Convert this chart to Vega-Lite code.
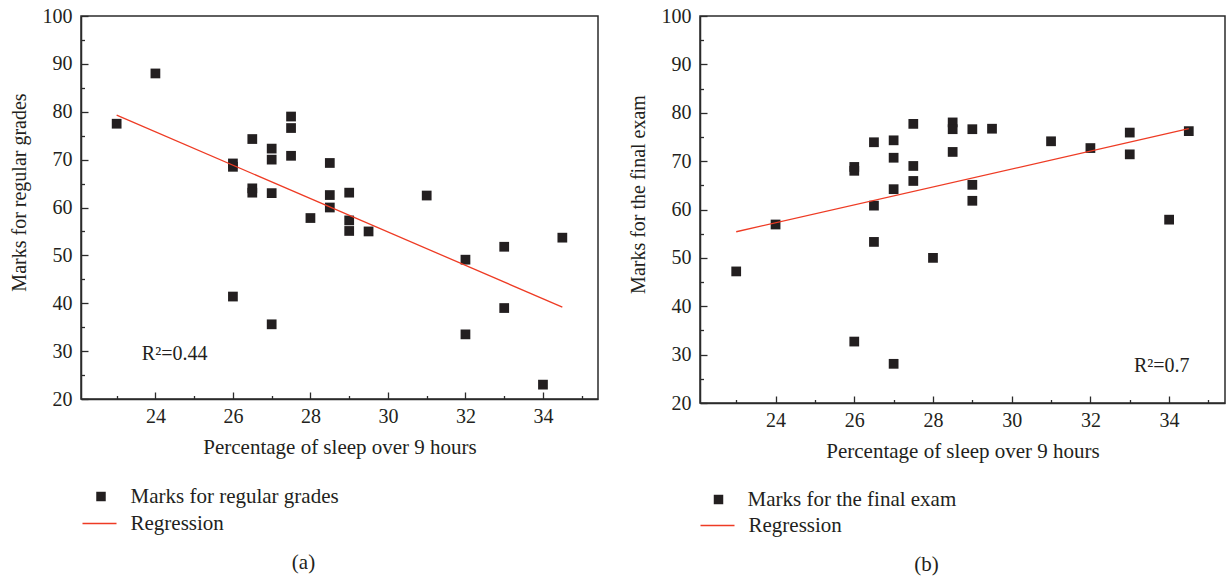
{
  "$schema": "https://vega.github.io/schema/vega-lite/v6.json",
  "background": "white",
  "padding": {"left": 8, "top": 5, "right": 1, "bottom": 0},
  "config": {
    "font": "Liberation Serif",
    "view": {"stroke": "#2b2b2b", "strokeWidth": 1.5},
    "axis": {
      "labelFont": "Liberation Serif", "titleFont": "Liberation Serif",
      "labelFontSize": 20, "titleFontSize": 21, "titleFontWeight": "normal",
      "labelColor": "#231f20", "titleColor": "#231f20",
      "domainColor": "#2b2b2b", "domainWidth": 1.5,
      "tickColor": "#2b2b2b", "tickWidth": 1.3,
      "grid": false, "labelOverlap": false, "labelFlush": false
    },
    "legend": {
      "labelFont": "Liberation Serif", "labelFontSize": 21, "labelColor": "#231f20", "labelLimit": 0,
      "padding": 0, "symbolOpacity": 1
    },
    "title": {"font": "Liberation Serif", "fontSize": 21, "fontWeight": "normal", "color": "#231f20"}
  },
  "datasets": {
    "a": [
      {"kind": "pt", "series": "Marks for regular grades", "x": 23, "y": 77.5},
      {"kind": "pt", "series": "Marks for regular grades", "x": 24, "y": 88},
      {"kind": "pt", "series": "Marks for regular grades", "x": 26, "y": 69.2},
      {"kind": "pt", "series": "Marks for regular grades", "x": 26, "y": 68.5},
      {"kind": "pt", "series": "Marks for regular grades", "x": 26, "y": 41.4},
      {"kind": "pt", "series": "Marks for regular grades", "x": 26.5, "y": 74.3},
      {"kind": "pt", "series": "Marks for regular grades", "x": 26.5, "y": 64},
      {"kind": "pt", "series": "Marks for regular grades", "x": 26.5, "y": 63.1},
      {"kind": "pt", "series": "Marks for regular grades", "x": 27, "y": 72.3},
      {"kind": "pt", "series": "Marks for regular grades", "x": 27, "y": 70},
      {"kind": "pt", "series": "Marks for regular grades", "x": 27, "y": 63},
      {"kind": "pt", "series": "Marks for regular grades", "x": 27, "y": 35.6},
      {"kind": "pt", "series": "Marks for regular grades", "x": 27.5, "y": 79},
      {"kind": "pt", "series": "Marks for regular grades", "x": 27.5, "y": 76.6},
      {"kind": "pt", "series": "Marks for regular grades", "x": 27.5, "y": 70.8},
      {"kind": "pt", "series": "Marks for regular grades", "x": 28, "y": 57.8},
      {"kind": "pt", "series": "Marks for regular grades", "x": 28.5, "y": 69.3},
      {"kind": "pt", "series": "Marks for regular grades", "x": 28.5, "y": 62.6},
      {"kind": "pt", "series": "Marks for regular grades", "x": 28.5, "y": 60},
      {"kind": "pt", "series": "Marks for regular grades", "x": 29, "y": 63.1},
      {"kind": "pt", "series": "Marks for regular grades", "x": 29, "y": 57.3},
      {"kind": "pt", "series": "Marks for regular grades", "x": 29, "y": 55.1},
      {"kind": "pt", "series": "Marks for regular grades", "x": 29.5, "y": 55},
      {"kind": "pt", "series": "Marks for regular grades", "x": 31, "y": 62.5},
      {"kind": "pt", "series": "Marks for regular grades", "x": 32, "y": 49.1},
      {"kind": "pt", "series": "Marks for regular grades", "x": 32, "y": 33.5},
      {"kind": "pt", "series": "Marks for regular grades", "x": 33, "y": 51.8},
      {"kind": "pt", "series": "Marks for regular grades", "x": 33, "y": 39},
      {"kind": "pt", "series": "Marks for regular grades", "x": 34, "y": 23},
      {"kind": "pt", "series": "Marks for regular grades", "x": 34.5, "y": 53.7},
      {"kind": "line", "series": "Regression", "x": 23, "y": 79.3},
      {"kind": "line", "series": "Regression", "x": 34.5, "y": 39.2},
      {"kind": "note", "series": "note", "x": 23.65, "y": 29.4, "label": "R²=0.44"}
    ],
    "b": [
      {"kind": "pt", "series": "Marks for the final exam", "x": 23, "y": 47.2},
      {"kind": "pt", "series": "Marks for the final exam", "x": 24, "y": 56.9},
      {"kind": "pt", "series": "Marks for the final exam", "x": 26, "y": 68.8},
      {"kind": "pt", "series": "Marks for the final exam", "x": 26, "y": 68},
      {"kind": "pt", "series": "Marks for the final exam", "x": 26, "y": 32.7},
      {"kind": "pt", "series": "Marks for the final exam", "x": 26.5, "y": 73.9},
      {"kind": "pt", "series": "Marks for the final exam", "x": 26.5, "y": 60.8},
      {"kind": "pt", "series": "Marks for the final exam", "x": 26.5, "y": 53.3},
      {"kind": "pt", "series": "Marks for the final exam", "x": 27, "y": 74.3},
      {"kind": "pt", "series": "Marks for the final exam", "x": 27, "y": 70.7},
      {"kind": "pt", "series": "Marks for the final exam", "x": 27, "y": 64.2},
      {"kind": "pt", "series": "Marks for the final exam", "x": 27, "y": 28.1},
      {"kind": "pt", "series": "Marks for the final exam", "x": 27.5, "y": 77.7},
      {"kind": "pt", "series": "Marks for the final exam", "x": 27.5, "y": 69},
      {"kind": "pt", "series": "Marks for the final exam", "x": 27.5, "y": 65.9},
      {"kind": "pt", "series": "Marks for the final exam", "x": 28, "y": 50},
      {"kind": "pt", "series": "Marks for the final exam", "x": 28.5, "y": 78},
      {"kind": "pt", "series": "Marks for the final exam", "x": 28.5, "y": 76.6},
      {"kind": "pt", "series": "Marks for the final exam", "x": 28.5, "y": 71.9},
      {"kind": "pt", "series": "Marks for the final exam", "x": 29, "y": 76.6},
      {"kind": "pt", "series": "Marks for the final exam", "x": 29, "y": 65.1},
      {"kind": "pt", "series": "Marks for the final exam", "x": 29, "y": 61.8},
      {"kind": "pt", "series": "Marks for the final exam", "x": 29.5, "y": 76.7},
      {"kind": "pt", "series": "Marks for the final exam", "x": 31, "y": 74.1},
      {"kind": "pt", "series": "Marks for the final exam", "x": 32, "y": 72.7},
      {"kind": "pt", "series": "Marks for the final exam", "x": 33, "y": 75.9},
      {"kind": "pt", "series": "Marks for the final exam", "x": 33, "y": 71.4},
      {"kind": "pt", "series": "Marks for the final exam", "x": 34, "y": 57.9},
      {"kind": "pt", "series": "Marks for the final exam", "x": 34.5, "y": 76.2},
      {"kind": "line", "series": "Regression", "x": 23, "y": 55.4},
      {"kind": "line", "series": "Regression", "x": 34.5, "y": 76.7},
      {"kind": "note", "series": "note", "x": 34.52, "y": 27.6, "label": "R²=0.7"}
    ]
  },
  "bounds": "flush",
  "spacing": 102,
  "resolve": {"scale": {"color": "independent", "x": "independent", "y": "independent"}, "legend": {"color": "independent"}},
  "hconcat": [
    {
      "width": 517, "height": 383,
      "data": {"name": "a"},
      "title": {"text": "(a)", "orient": "bottom", "anchor": "middle", "frame": "bounds", "offset": 18},
      "resolve": {"scale": {"color": "independent"}, "legend": {"color": "independent"}},
      "encoding": {
        "x": {"field": "x", "type": "quantitative",
          "scale": {"domain": [22.08, 35.42], "nice": false, "zero": false},
          "axis": {"title": "Percentage of sleep over 9 hours",
            "values": [23, 24, 25, 26, 27, 28, 29, 30, 31, 32, 33, 34, 35],
            "labelExpr": "datum.value % 2 == 0 ? datum.label : ''",
            "tickSize": {"condition": {"test": "datum.value % 2 != 0", "value": -3.5}, "value": -7},
            "labelPadding": 14, "titlePadding": 7}},
        "y": {"field": "y", "type": "quantitative",
          "scale": {"domain": [20, 100], "nice": false, "zero": false},
          "axis": {"title": "Marks for regular grades", "titleFontSize": 20,
            "values": [20, 25, 30, 35, 40, 45, 50, 55, 60, 65, 70, 75, 80, 85, 90, 95, 100],
            "labelExpr": "datum.value % 10 == 0 ? datum.label : ''",
            "tickSize": {"condition": {"test": "datum.value % 10 != 0", "value": -3.5}, "value": -7},
            "labelPadding": 16, "titlePadding": 13, "titleY": 176}}
      },
      "layer": [
        {
          "transform": [{"filter": "datum.kind == 'pt'"}],
          "mark": {"type": "point", "shape": "square", "filled": true, "size": 95, "opacity": 1},
          "encoding": {
            "color": {"field": "series", "type": "nominal", "title": null,
              "scale": {"domain": ["Marks for regular grades"], "range": ["#231f20"]},
              "legend": {"orient": "none", "legendX": 9.5, "legendY": 470, "symbolType": "square", "symbolSize": 90, "labelOffset": 19}}
          }
        },
        {
          "transform": [{"filter": "datum.kind == 'line'"}],
          "mark": {"type": "line", "strokeWidth": 1.3},
          "encoding": {
            "color": {"field": "series", "type": "nominal", "title": null,
              "scale": {"domain": ["Regression"], "range": ["#ee3b24"]},
              "legend": {"orient": "none", "legendX": 0.5, "legendY": 489.5, "symbolType": "stroke", "symbolSize": 1156, "symbolStrokeWidth": 1.3, "labelOffset": 13}}
          }
        },
        {
          "transform": [{"filter": "datum.kind == 'note'"}],
          "mark": {"type": "text", "align": "left", "baseline": "middle", "fontSize": 20, "font": "Liberation Serif"},
          "encoding": {"text": {"field": "label"}, "color": {"value": "#231f20"}}
        }
      ]
    },
    {
      "width": 525, "height": 387,
      "data": {"name": "b"},
      "title": {"text": "(b)", "orient": "bottom", "anchor": "middle", "frame": "bounds", "offset": 18},
      "resolve": {"scale": {"color": "independent"}, "legend": {"color": "independent"}},
      "encoding": {
        "x": {"field": "x", "type": "quantitative",
          "scale": {"domain": [22.08, 35.42], "nice": false, "zero": false},
          "axis": {"title": "Percentage of sleep over 9 hours",
            "values": [23, 24, 25, 26, 27, 28, 29, 30, 31, 32, 33, 34, 35],
            "labelExpr": "datum.value % 2 == 0 ? datum.label : ''",
            "tickSize": {"condition": {"test": "datum.value % 2 != 0", "value": -3.5}, "value": -7},
            "labelPadding": 14, "titlePadding": 7}},
        "y": {"field": "y", "type": "quantitative",
          "scale": {"domain": [20, 100], "nice": false, "zero": false},
          "axis": {"title": "Marks for the final exam", "titleFontSize": 20,
            "values": [20, 25, 30, 35, 40, 45, 50, 55, 60, 65, 70, 75, 80, 85, 90, 95, 100],
            "labelExpr": "datum.value % 10 == 0 ? datum.label : ''",
            "tickSize": {"condition": {"test": "datum.value % 10 != 0", "value": -3.5}, "value": -7},
            "labelPadding": 16, "titlePadding": 13, "titleY": 178}}
      },
      "layer": [
        {
          "transform": [{"filter": "datum.kind == 'pt'"}],
          "mark": {"type": "point", "shape": "square", "filled": true, "size": 95, "opacity": 1},
          "encoding": {
            "color": {"field": "series", "type": "nominal", "title": null,
              "scale": {"domain": ["Marks for the final exam"], "range": ["#231f20"]},
              "legend": {"orient": "none", "legendX": 8, "legendY": 473, "symbolType": "square", "symbolSize": 90, "labelOffset": 18.5}}
          }
        },
        {
          "transform": [{"filter": "datum.kind == 'line'"}],
          "mark": {"type": "line", "strokeWidth": 1.3},
          "encoding": {
            "color": {"field": "series", "type": "nominal", "title": null,
              "scale": {"domain": ["Regression"], "range": ["#ee3b24"]},
              "legend": {"orient": "none", "legendX": -0.5, "legendY": 491.5, "symbolType": "stroke", "symbolSize": 1156, "symbolStrokeWidth": 1.3, "labelOffset": 13}}
          }
        },
        {
          "transform": [{"filter": "datum.kind == 'note'"}],
          "mark": {"type": "text", "align": "right", "baseline": "middle", "fontSize": 20, "font": "Liberation Serif"},
          "encoding": {"text": {"field": "label"}, "color": {"value": "#231f20"}}
        }
      ]
    }
  ]
}
